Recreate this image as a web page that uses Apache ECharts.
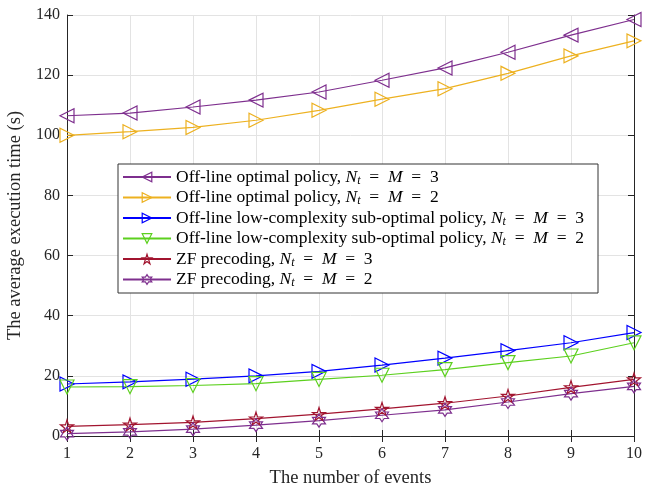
<!DOCTYPE html>
<html>
<head>
<meta charset="utf-8">
<script src="https://cdn.jsdelivr.net/npm/echarts@6/dist/echarts.min.js"></script>
<style>
  html, body { margin: 0; padding: 0; background: #fff; }
  #main { width: 645px; height: 487px; }
</style>
</head>
<body>
<div id="main"></div>
<script>
// number of events on the x axis
const events = [1, 2, 3, 4, 5, 6, 7, 8, 9, 10];

// average execution time (s)
const optN3 = [106.5, 107.4, 109.4, 111.7, 114.4, 118.3, 122.4, 127.6, 133.3, 138.5];
const optN2 = [100.0, 101.2, 102.6, 105.0, 108.3, 112.0, 115.5, 120.6, 126.4, 131.4];
const lowN3 = [17.3, 18.0, 18.9, 20.0, 21.5, 23.6, 25.9, 28.4, 31.0, 34.4];
const lowN2 = [16.3, 16.4, 16.8, 17.4, 18.8, 20.2, 22.1, 24.4, 26.6, 31.0];
const zfN3 = [3.2, 3.8, 4.5, 5.8, 7.3, 9.0, 10.9, 13.3, 16.2, 18.8];
const zfN2 = [0.8, 1.4, 2.3, 3.6, 5.1, 6.9, 8.7, 11.3, 14.1, 16.5];

const names = [
  "Off-line optimal policy, Nt=M=3",
  "Off-line optimal policy, Nt=M=2",
  "Off-line low-complexity sub-optimal policy, Nt=M=3",
  "Off-line low-complexity sub-optimal policy, Nt=M=2",
  "ZF precoding, Nt=M=3",
  "ZF precoding, Nt=M=2"
];

const FONT = "Liberation Serif";

const leftTri = "path://M0,5L10,0L10,10Z";
const rightTri = "path://M10,5L0,0L0,10Z";
const downTri = "path://M0,0L10,0L5,10Z";
const pentagram = "path://M50,0L61.23,34.55L97.55,34.55L68.16,55.9L79.39,90.45L50,69.1L20.61,90.45L31.84,55.9L2.45,34.55L38.77,34.55Z";
const hexagram = "path://M50,0L64.43,25L93.3,25L78.87,50L93.3,75L64.43,75L50,100L35.57,75L6.7,75L21.13,50L6.7,25L35.57,25Z";

function mk(name, values, color, symbol, size) {
  return {
    name: name,
    type: "line",
    data: events.map((e, i) => [e, values[i]]),
    symbol: symbol,
    symbolSize: size,
    showAllSymbol: true,
    lineStyle: { color: color, width: 1.2 },
    itemStyle: { color: "transparent", borderColor: color, borderWidth: 1.2 },
    emphasis: { disabled: true },
    z: 3
  };
}

const series = [
  mk(names[0], optN3, "#7E2F8E", leftTri, 14),
  mk(names[1], optN2, "#EDB120", rightTri, 14),
  mk(names[2], lowN3, "#0000FF", rightTri, 14),
  mk(names[3], lowN2, "#5CD01E", downTri, 14),
  mk(names[4], zfN3, "#A2142F", pentagram, 13),
  mk(names[5], zfN2, "#7E2F8E", hexagram, 13)
];

function legendText(name) {
  const m = name.match(/^(.*), Nt=M=(\d)$/);
  return "{n|" + m[1] + ", }{i|N}{s|t}{n|  =  }{i|M}{n|  =  " + m[2] + "}";
}

const axisLine = { show: true, lineStyle: { color: "#262626", width: 1 } };
const tick = { show: true, inside: true, length: 6, lineStyle: { color: "#262626" } };

const option = {
  animation: false,
  backgroundColor: "#fff",
  textStyle: { fontFamily: FONT },
  grid: { left: 67, right: 11, top: 15, bottom: 51, containLabel: false, outerBoundsMode: "none" },
  legend: {
    orient: "vertical",
    left: 118,
    top: 164,
    data: names,
    backgroundColor: "#fff",
    borderColor: "#333",
    borderWidth: 1,
    padding: [4, 14, 4, 4],
    itemGap: 2,
    itemWidth: 48,
    itemHeight: 12,
    selectedMode: false,
    formatter: legendText,
    itemStyle: { color: "transparent", borderWidth: 1.2 },
    textStyle: {
      color: "#000",
      rich: {
        n: { fontFamily: FONT, fontSize: 17.5, color: "#000" },
        i: { fontFamily: FONT, fontStyle: "italic", fontSize: 17.5, color: "#000" },
        s: { fontFamily: FONT, fontStyle: "italic", fontSize: 12, color: "#000", verticalAlign: "bottom", padding: [7, 0, 0, 0] }
      }
    }
  },
  xAxis: [
    {
      type: "value",
      min: 1,
      max: 10,
      interval: 1,
      name: "The number of events",
      nameLocation: "middle",
      nameGap: 33,
      nameTextStyle: { fontFamily: FONT, fontSize: 18.5, color: "#262626" },
      axisLine: axisLine,
      axisTick: tick,
      axisLabel: { fontFamily: FONT, fontSize: 16, color: "#262626", margin: 10 },
      splitLine: { show: true, lineStyle: { color: "#e3e3e3", width: 1 } }
    },
    {
      type: "value",
      position: "top",
      min: 1,
      max: 10,
      interval: 1,
      axisLine: axisLine,
      axisTick: tick,
      axisLabel: { show: false },
      splitLine: { show: false }
    }
  ],
  yAxis: [
    {
      type: "value",
      min: 0,
      max: 140,
      interval: 20,
      name: "The average execution time (s)",
      nameLocation: "middle",
      nameGap: 38,
      nameTextStyle: { fontFamily: FONT, fontSize: 18.5, color: "#262626" },
      axisLine: axisLine,
      axisTick: tick,
      axisLabel: { fontFamily: FONT, fontSize: 16, color: "#262626", margin: 7 },
      splitLine: { show: true, lineStyle: { color: "#e3e3e3", width: 1 } }
    },
    {
      type: "value",
      position: "right",
      min: 0,
      max: 140,
      interval: 20,
      axisLine: axisLine,
      axisTick: tick,
      axisLabel: { show: false },
      splitLine: { show: false }
    }
  ],
  series: series
};

const chart = echarts.init(document.getElementById("main"));
chart.setOption(option);
window.onresize = function () {
  chart.resize();
};
</script>
</body>
</html>
